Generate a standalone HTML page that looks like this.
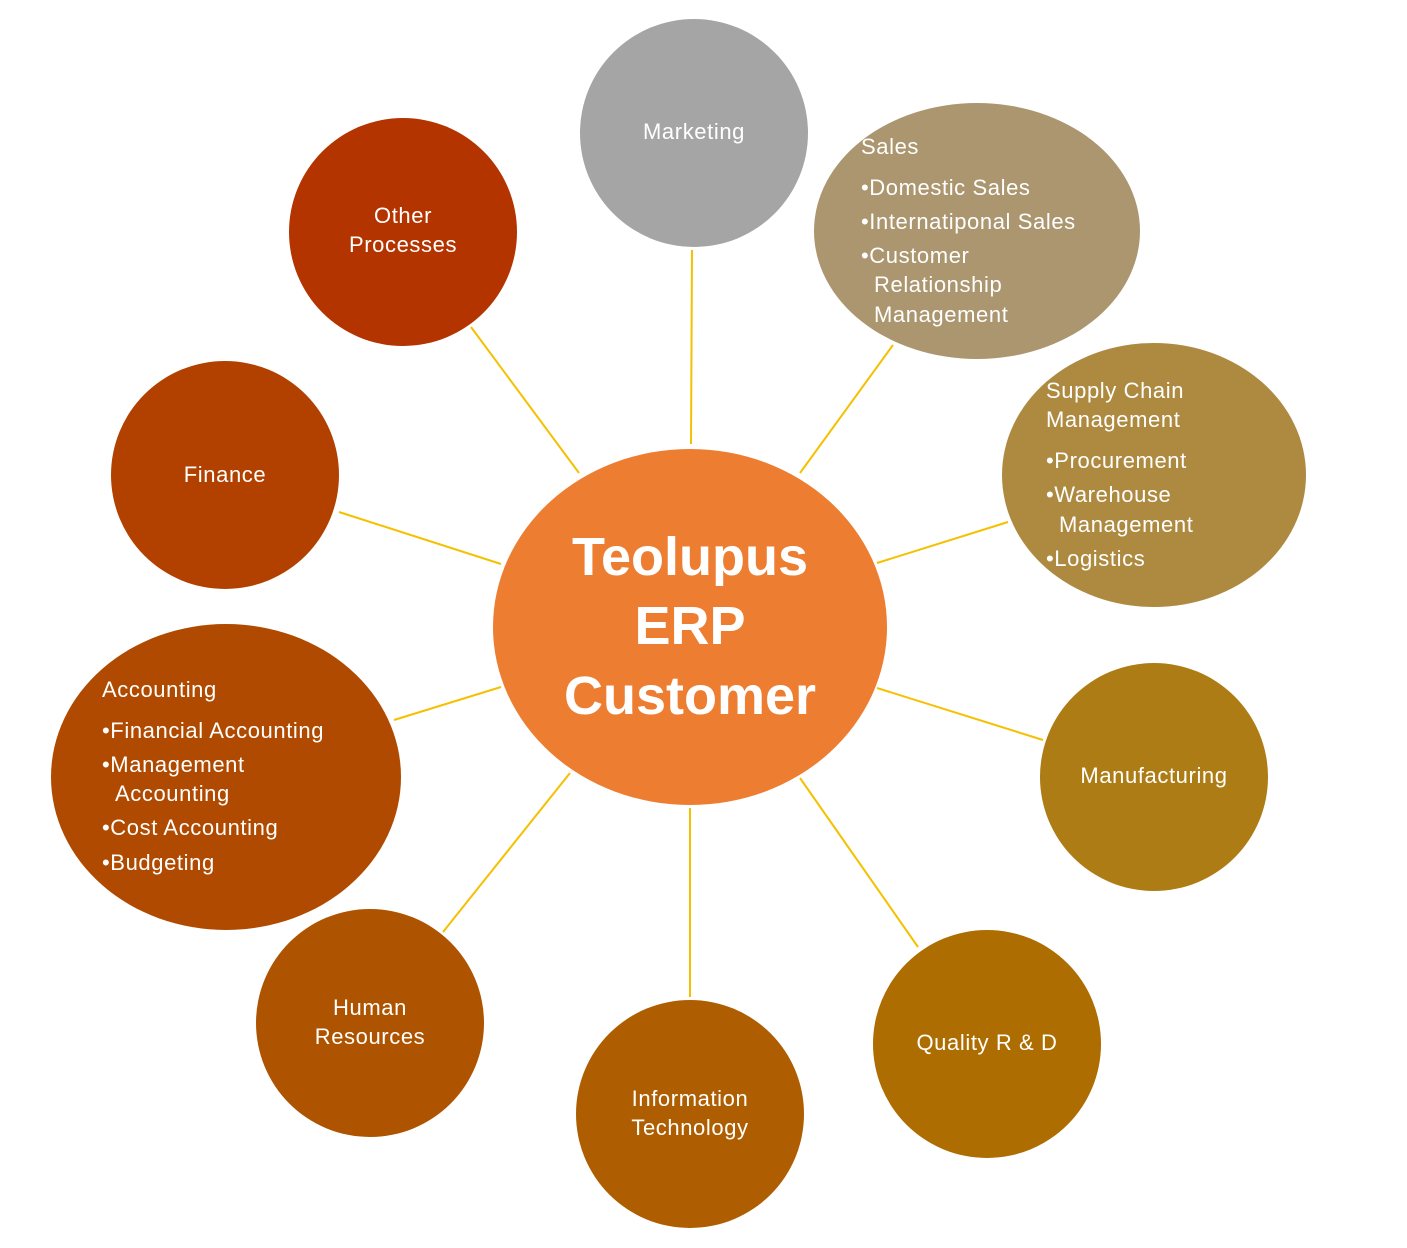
<!DOCTYPE html>
<html><head><meta charset="utf-8"><style>
html,body{margin:0;padding:0;background:#fff;}
svg{display:block}
text{font-family:"Liberation Sans",sans-serif;fill:#fff;font-size:22px;letter-spacing:0.6px}
.c{text-anchor:middle}
.b{font-size:54px;font-weight:bold;letter-spacing:0}
</style></head><body>
<svg width="1407" height="1248" viewBox="0 0 1407 1248">
<g stroke="#f5c000" stroke-width="2">
<line x1="692" y1="250" x2="691" y2="444"/>
<line x1="893" y1="345" x2="800" y2="473"/>
<line x1="1008" y1="522" x2="877" y2="563"/>
<line x1="877" y1="688" x2="1043" y2="740"/>
<line x1="800" y1="778" x2="918" y2="947"/>
<line x1="690" y1="808" x2="690" y2="997"/>
<line x1="570" y1="773" x2="443" y2="932"/>
<line x1="501" y1="687" x2="394" y2="720"/>
<line x1="501" y1="564" x2="339" y2="512"/>
<line x1="579" y1="473" x2="471" y2="327"/>
</g>
<ellipse cx="690" cy="627" rx="197" ry="178" fill="#ed7d31"/>
<circle cx="694" cy="133" r="114" fill="#a5a5a5"/>
<ellipse cx="977" cy="231" rx="163" ry="128" fill="#ab966f"/>
<ellipse cx="1154" cy="475" rx="152" ry="132" fill="#ad8a40"/>
<circle cx="1154" cy="777" r="114" fill="#ad7c14"/>
<circle cx="987" cy="1044" r="114" fill="#ad6d00"/>
<circle cx="690" cy="1114" r="114" fill="#ae5e00"/>
<circle cx="370" cy="1023" r="114" fill="#ae5400"/>
<ellipse cx="226" cy="777" rx="175" ry="153" fill="#b04a00"/>
<circle cx="225" cy="475" r="114" fill="#b24100"/>
<circle cx="403" cy="232" r="114" fill="#b43400"/>

<text class="c b" x="690" y="575">Teolupus</text>
<text class="c b" x="690" y="644">ERP</text>
<text class="c b" x="690" y="714">Customer</text>
<text class="c" x="694" y="139">Marketing</text>
<text x="861" y="154">Sales</text>
<text x="861" y="195">•Domestic Sales</text>
<text x="861" y="229">•Internatiponal Sales</text>
<text x="861" y="263">•Customer</text>
<text x="874" y="292">Relationship</text>
<text x="874" y="322">Management</text>
<text x="1046" y="398">Supply Chain</text>
<text x="1046" y="427">Management</text>
<text x="1046" y="468">•Procurement</text>
<text x="1046" y="502">•Warehouse</text>
<text x="1059" y="532">Management</text>
<text x="1046" y="566">•Logistics</text>
<text class="c" x="1154" y="783">Manufacturing</text>
<text class="c" x="987" y="1050">Quality R &amp; D</text>
<text class="c" x="690" y="1106">Information</text>
<text class="c" x="690" y="1135">Technology</text>
<text class="c" x="370" y="1015">Human</text>
<text class="c" x="370" y="1044">Resources</text>
<text x="102" y="697">Accounting</text>
<text x="102" y="738">•Financial Accounting</text>
<text x="102" y="772">•Management</text>
<text x="115" y="801">Accounting</text>
<text x="102" y="835">•Cost Accounting</text>
<text x="102" y="870">•Budgeting</text>
<text class="c" x="225" y="482">Finance</text>
<text class="c" x="403" y="223">Other</text>
<text class="c" x="403" y="252">Processes</text>
</svg>
</body></html>
